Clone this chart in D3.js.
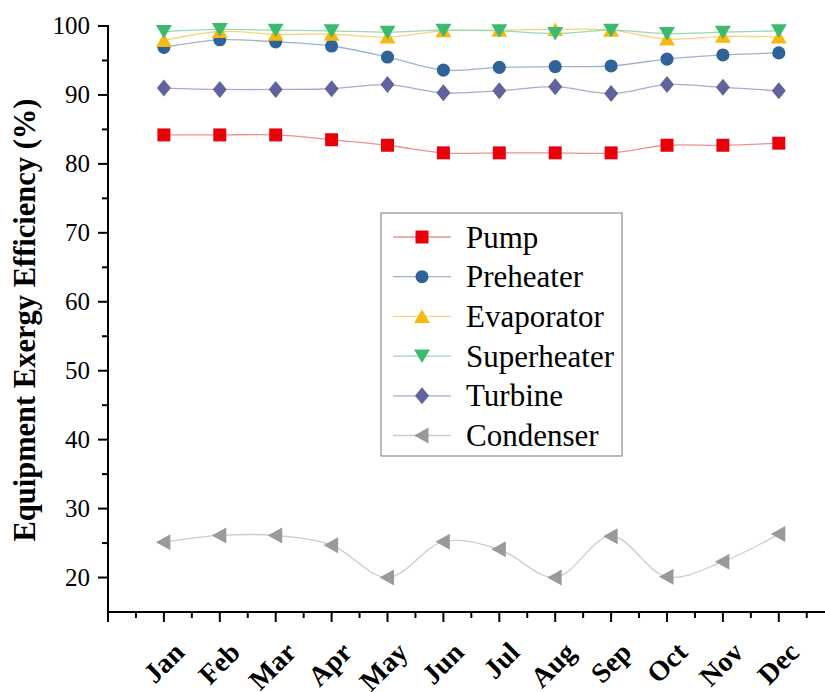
<!DOCTYPE html>
<html><head><meta charset="utf-8">
<script src="https://cdn.jsdelivr.net/npm/d3@7"></script>
<style>body{margin:0;background:#fff}svg{display:block}</style>
</head><body>
<svg id="c" width="825" height="692"></svg>
<script>
const months = ["Jan","Feb","Mar","Apr","May","Jun","Jul","Aug","Sep","Oct","Nov","Dec"];
const pump        = [84.2,84.2,84.2,83.5,82.7,81.6,81.6,81.6,81.6,82.7,82.7,83.0];
const preheater   = [96.9,98.0,97.7,97.1,95.5,93.6,94.0,94.1,94.2,95.2,95.8,96.1];
const evaporator  = [97.9,99.2,98.8,98.8,98.4,99.3,99.4,99.5,99.4,98.1,98.5,98.4];
const superheater = [99.2,99.5,99.4,99.3,99.1,99.4,99.3,98.9,99.4,98.9,99.1,99.3];
const turbine     = [91.0,90.8,90.8,90.9,91.5,90.3,90.6,91.2,90.2,91.5,91.1,90.6];
const condenser   = [25.1,26.1,26.1,24.7,20.0,25.2,24.1,20.0,26.0,20.1,22.3,26.3];
const seriesNames = ["Pump","Preheater","Evaporator","Superheater","Turbine","Condenser"];
const yTicks = [20,30,40,50,60,70,80,90,100];

const FONT = '"Liberation Serif","Times New Roman",Tinos,serif';

const styles = [
  {data:pump, marker:"#e8000b", line:"#ee9090", sym:"square"},
  {data:preheater, marker:"#2f6399", line:"#9fb4cc", sym:"circle"},
  {data:evaporator, marker:"#f6b90f", line:"#f5d680", sym:"up"},
  {data:superheater, marker:"#3bbb6e", line:"#95dab0", sym:"down"},
  {data:turbine, marker:"#62629c", line:"#aaaacb", sym:"diamond"},
  {data:condenser, marker:"#9a9a9a", line:"#cccccc", sym:"left"}
];

const svg = d3.select("#c");
const x = d3.scaleLinear().domain([0,13]).range([108, 108+13*55.9]);
const y = d3.scaleLinear().domain([15,100]).range([612, 26]);

function symPath(s){
  switch(s){
    case "square": return "M-6.5,-6.5H6.5V6.5H-6.5Z";
    case "circle": return d3.symbol(d3.symbolCircle, 135)();
    case "up": return "M0,-7L8,6.5L-8,6.5Z";
    case "down": return "M0,7L8,-6.5L-8,-6.5Z";
    case "diamond": return "M0,-8.5L7,0L0,8.5L-7,0Z";
    case "left": return "M-8,0L6.5,-8L6.5,8Z";
  }
}

const line = d3.line().x((d,i)=>x(i+1)).y(d=>y(d)).curve(d3.curveCatmullRom.alpha(0.5));
styles.forEach(s=>{
  svg.append("path").attr("d", line(s.data)).attr("fill","none")
     .attr("stroke", s.line).attr("stroke-width",1.3);
  svg.append("g").selectAll("path").data(s.data).join("path")
     .attr("transform",(d,i)=>`translate(${x(i+1)},${y(d)})`)
     .attr("d", symPath(s.sym)).attr("fill", s.marker);
});

// Y axis
const gy = svg.append("g").attr("transform","translate(108,0)");
gy.append("line").attr("x1",0).attr("x2",0).attr("y1",y(100)-1).attr("y2",613)
  .attr("stroke","#000").attr("stroke-width",2);
const yMinor = d3.range(25,100,10);
gy.selectAll(".ymaj").data(yTicks).join("line")
  .attr("x1",-10).attr("x2",0).attr("y1",d=>y(d)).attr("y2",d=>y(d))
  .attr("stroke","#000").attr("stroke-width",2);
gy.selectAll(".ymin").data(yMinor).join("line")
  .attr("x1",-6).attr("x2",0).attr("y1",d=>y(d)).attr("y2",d=>y(d))
  .attr("stroke","#000").attr("stroke-width",2);
gy.selectAll("text").data(yTicks).join("text")
  .attr("x",-18).attr("y",d=>y(d)).attr("dy","0.33em").attr("text-anchor","end")
  .style("font-family",FONT).attr("font-size",25).attr("fill","#000")
  .text(d=>d);

// X axis
const gx = svg.append("g").attr("transform","translate(0,612)");
gx.append("line").attr("x1",107).attr("x2",825).attr("y1",0).attr("y2",0)
  .attr("stroke","#000").attr("stroke-width",2);
gx.selectAll(".xmaj").data(d3.range(0,14)).join("line")
  .attr("x1",d=>x(d)).attr("x2",d=>x(d)).attr("y1",0).attr("y2",10)
  .attr("stroke","#000").attr("stroke-width",2);
gx.selectAll(".xmin").data(d3.range(0.5,13,1)).join("line")
  .attr("x1",d=>x(d)).attr("x2",d=>x(d)).attr("y1",0).attr("y2",6)
  .attr("stroke","#000").attr("stroke-width",2);
gx.selectAll("text").data(months).join("text")
  .attr("transform",(d,i)=>`translate(${x(i+1)+22},${42}) rotate(-45)`)
  .attr("text-anchor","end")
  .style("font-family",FONT).attr("font-weight","bold")
  .attr("font-size",28).attr("fill","#000").text(d=>d);

// Y title
svg.append("text").attr("transform","translate(35,320) rotate(-90)")
  .attr("text-anchor","middle").style("font-family",FONT)
  .attr("font-weight","bold").attr("font-size",30.5).attr("fill","#000")
  .text("Equipment Exergy Efficiency (%)");

// Legend
const lg = svg.append("g").attr("transform","translate(381,213)");
lg.append("rect").attr("x",0).attr("y",0).attr("width",241).attr("height",243)
  .attr("fill","#fff").attr("stroke","#777").attr("stroke-width",1);
styles.forEach((s,i)=>{
  const ry = 24 + i*39.7;
  lg.append("line").attr("x1",12).attr("x2",70).attr("y1",ry).attr("y2",ry)
    .attr("stroke",s.line).attr("stroke-width",1.3);
  lg.append("path").attr("transform",`translate(41,${ry})`).attr("d",symPath(s.sym)).attr("fill",s.marker);
  lg.append("text").attr("x",85).attr("y",ry).attr("dy","0.34em")
    .style("font-family",FONT).attr("font-size",31).attr("fill","#000")
    .text(seriesNames[i]);
});
</script>
</body></html>
